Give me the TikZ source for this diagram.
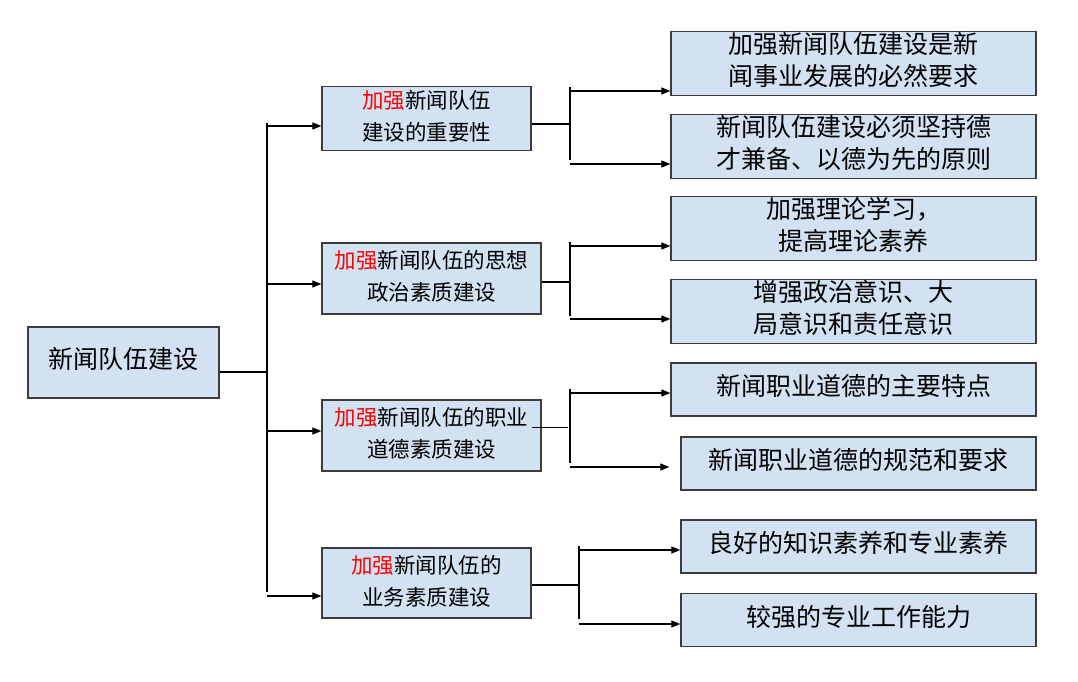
\documentclass[tikz,border=0pt]{standalone}
\usepackage{fontspec}
\newfontfamily\cjk{Noto Sans CJK SC}
\usetikzlibrary{arrows.meta}
\definecolor{boxfill}{RGB}{210,226,242}
\definecolor{boxline}{RGB}{60,60,60}
\tikzset{
  topicbox/.style={draw=boxline, line width=1.3pt, fill=boxfill, inner sep=0pt, font=\cjk\fontsize{21.5}{32}\selectfont},
  itembox/.style={topicbox, font=\cjk\fontsize{25}{32}\selectfont},
  feed/.style={line width=1.2pt},
  trunk/.style={line width=2.4pt},
  arr/.style={line width=1.2pt, -{Triangle[length=9pt,width=7pt]}}
}
\newcommand{\qiang}{\textcolor{red}{加强}}
\newcommand{\boxtext}[1]{\raisebox{1pt}{\begin{tabular}{@{}c@{}}#1\end{tabular}}}

\begin{document}
\begin{tikzpicture}[x=1pt, y=-1pt]
			%%%%% START %%%%%
			\useasboundingbox (0,0) rectangle (1078,682);
			
			% root
			\node[itembox, minimum width=191pt, minimum height=71pt] (root) at (123.5,362.5) {\boxtext{新闻队伍建设}};
			
			% topics
			\node[topicbox, minimum width=209pt, minimum height=61pt] (m1) at (426.5,118.5) {\boxtext{\qiang 新闻队伍\\建设的重要性}};
			\node[topicbox, minimum width=219pt, minimum height=71pt] (m2) at (431.5,278.5) {\boxtext{\qiang 新闻队伍的思想\\政治素质建设}};
			\node[topicbox, minimum width=219pt, minimum height=71pt] (m3) at (431.5,435.5) {\boxtext{\qiang 新闻队伍的职业\\道德素质建设}};
			\node[topicbox, minimum width=209pt, minimum height=70pt] (m4) at (426.5,583) {\boxtext{\qiang 新闻队伍的\\业务素质建设}};
			
			% items
			\node[itembox, minimum width=365pt, minimum height=61pt] (r1) at (853.5,63.5) {\boxtext{加强新闻队伍建设是新\\闻事业发展的必然要求}};
			\node[itembox, minimum width=365pt, minimum height=61pt] (r2) at (853.5,146.5) {\boxtext{新闻队伍建设必须坚持德\\才兼备、以德为先的原则}};
			\node[itembox, minimum width=365pt, minimum height=61pt] (r3) at (853.5,228.5) {\boxtext{加强理论学习，\\提高理论素养}};
			\node[itembox, minimum width=365pt, minimum height=61pt] (r4) at (853.5,311.5) {\boxtext{增强政治意识、大\\局意识和责任意识}};
			\node[itembox, minimum width=365pt, minimum height=53pt] (r5) at (853.5,389.5) {\boxtext{新闻职业道德的主要特点}};
			\node[itembox, minimum width=355pt, minimum height=53pt] (r6) at (858.5,463.5) {\boxtext{新闻职业道德的规范和要求}};
			\node[itembox, minimum width=355pt, minimum height=53pt] (r7) at (858.5,546.5) {\boxtext{良好的知识素养和专业素养}};
			\node[itembox, minimum width=355pt, minimum height=53pt] (r8) at (858.5,620) {\boxtext{较强的专业工作能力}};
			
			% main bus
			\coordinate (b0) at (267,372);
			\coordinate (j1) at (267,126);
			\coordinate (j2) at (267,284);
			\coordinate (j3) at (267,431);
			\coordinate (j4) at (267,596);
			\draw[line width=2pt] (b0 -| root.east) -- (b0);
			\draw[feed] (267,123) -- (267,592);
			\draw[arr] (j1) -- (j1 -| m1.west);
			\draw[arr] (j2) -- (j2 -| m2.west);
			\draw[arr] (j3) -- (j3 -| m3.west);
			\draw[arr] (j4) -- (j4 -| m4.west);
			
			% first branch
			\coordinate (c1) at (569,124);
			\coordinate (k1) at (570,91);
			\coordinate (k2) at (570,164);
			\draw[line width=2pt] (c1 -| m1.east) -- (c1);
			\draw[trunk] (570,87) -- (570,160);
			\draw[arr] (k1) -- (k1 -| r1.west);
			\draw[arr] (k2) -- (k2 -| r2.west);
			
			% second branch
			\coordinate (c2) at (570,282);
			\coordinate (k3) at (570,246);
			\coordinate (k4) at (570,319);
			\draw[line width=2pt] (c2 -| m2.east) -- (c2);
			\draw[trunk] (570,242) -- (570,316);
			\draw[arr] (k3) -- (k3 -| r3.west);
			\draw[arr] (k4) -- (k4 -| r4.west);
			
			% third branch
			\coordinate (c3) at (568,427);
			\coordinate (k5) at (570,393);
			\coordinate (k6) at (570,467);
			\draw[line width=0.9pt] (532,427) -- (c3);
			\draw[trunk] (570,389) -- (570,463);
			\draw[arr] (k5) -- (k5 -| r5.west);
			\draw[arr, shorten >=11pt] (k6) -- (k6 -| r6.west);
			
			% fourth branch
			\coordinate (c4) at (579,585);
			\coordinate (k7) at (579,550);
			\coordinate (k8) at (579,624);
			\draw[line width=2pt] (c4 -| m4.east) -- (c4);
			\draw[trunk] (579,546) -- (579,619);
			\draw[arr] (k7) -- (k7 -| r7.west);
			\draw[arr] (k8) -- (k8 -| r8.west);
			
			%%%%% END %%%%%
\end{tikzpicture}
\end{document}
